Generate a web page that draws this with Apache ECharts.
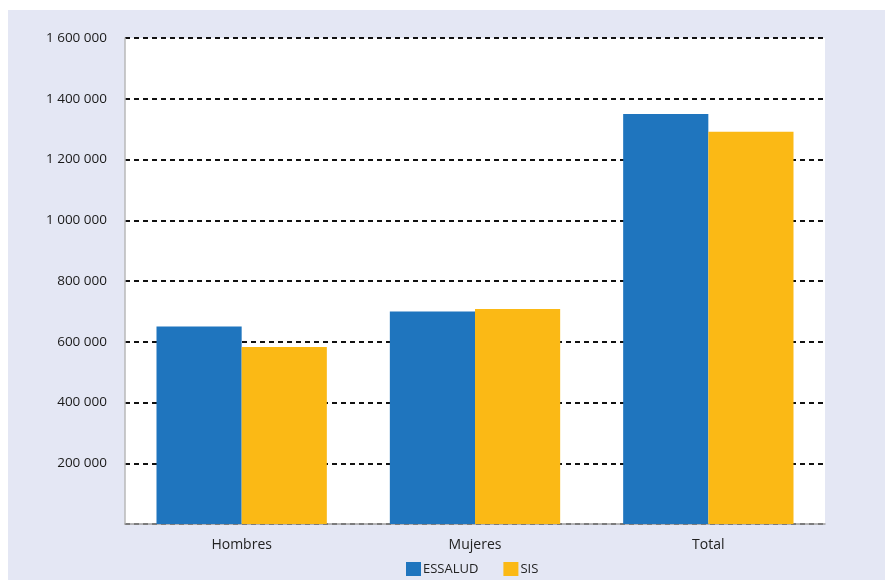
<!DOCTYPE html>
<html><head><meta charset="utf-8">
<script src="https://cdn.jsdelivr.net/npm/echarts@6/dist/echarts.min.js"></script>
<style>html,body{margin:0;padding:0;background:#fff}#c{width:885px;height:580px}</style>
</head><body><div id="c"></div>
<script>
const categories = ['Hombres', 'Mujeres', 'Total'];
const essalud = [650000, 700000, 1350000];
const sis = [583000, 708000, 1291000];
const yTicks = [0, 200000, 400000, 600000, 800000, 1000000, 1200000, 1400000, 1600000];

const chart = echarts.init(document.getElementById('c'), null, {renderer: 'canvas'});
const fmt = v => v === 0 ? '' : String(v).replace(/\B(?=(\d{3})+(?!\d))/g, ' ');
chart.setOption({
  animation: false,
  backgroundColor: 'transparent',
  textStyle: {fontFamily: 'Open Sans'},
  graphic: [{type: 'rect', z: -10, silent: true, shape: {x: 8, y: 10, width: 877, height: 570}, style: {fill: '#E4E7F4'}}],
  grid: {left: 125, right: 60, top: 38, bottom: 56, show: true, backgroundColor: '#fff', borderWidth: 0},
  legend: {
    top: 562, left: 406, padding: 0, itemWidth: 15, itemHeight: 14, itemGap: 25, icon: 'rect',
    textStyle: {fontSize: 13, color: '#222', fontFamily: 'Open Sans', padding: [0, 0, 0, -3]},
    data: ['ESSALUD', 'SIS']
  },
  xAxis: {
    type: 'category', data: categories,
    axisLine: {lineStyle: {color: '#a0a0a0', width: 1.5}},
    axisTick: {show: false},
    axisLabel: {fontSize: 14, color: '#222', margin: 14}
  },
  yAxis: {
    type: 'value', min: yTicks[0], max: yTicks[yTicks.length - 1], interval: 200000,
    axisLine: {show: true, lineStyle: {color: '#b8b8b8', width: 1.5}},
    axisTick: {show: false},
    axisLabel: {fontSize: 13.5, color: '#1a1a1a', margin: 18, formatter: fmt},
    splitLine: {show: true, lineStyle: {color: '#111', width: 1.8, type: [5, 4]}}
  },
  series: [
    {name: 'ESSALUD', type: 'bar', data: essalud, barGap: '0%', barCategoryGap: '27%', itemStyle: {color: '#1F75BE'}},
    {name: 'SIS', type: 'bar', data: sis, itemStyle: {color: '#FBB915'}}
  ]
});
</script></body></html>
